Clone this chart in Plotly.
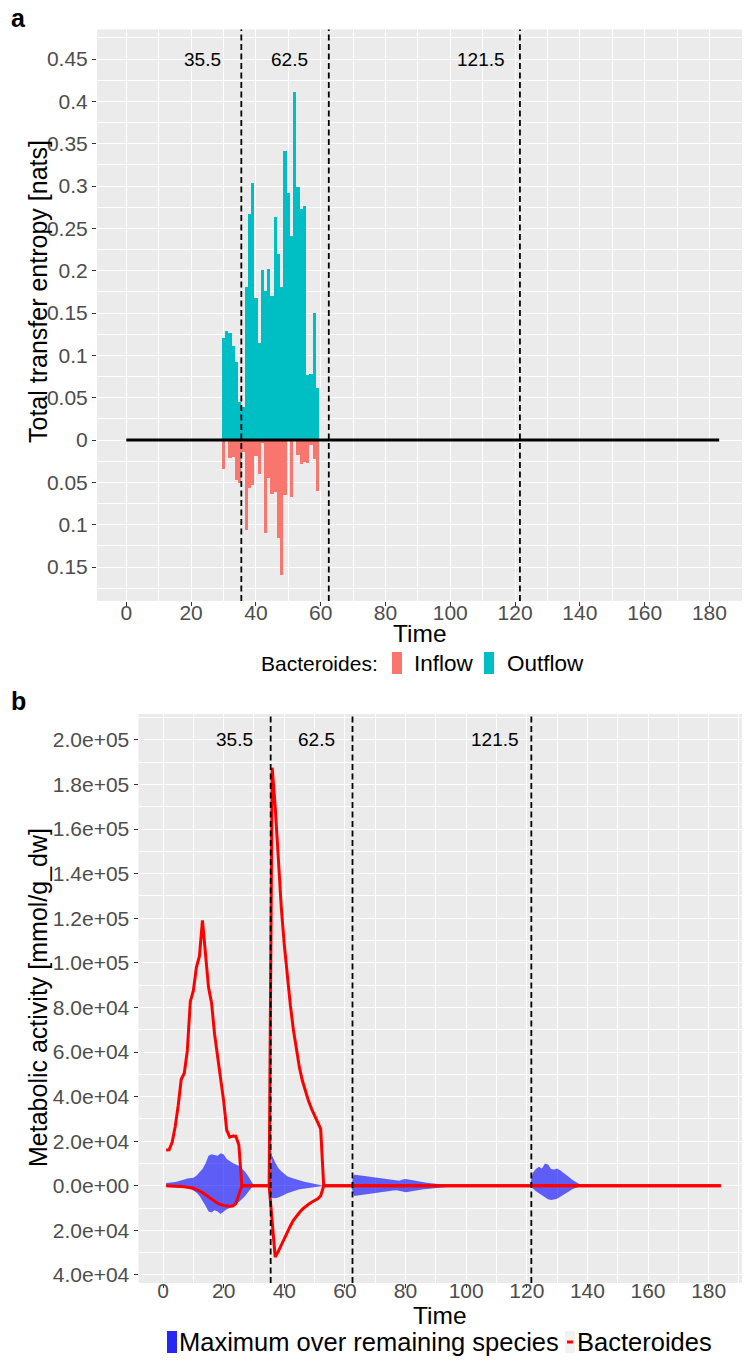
import plotly.graph_objects as go

W, H = 747, 1363


def px(x):
    return x / W


def py(y):
    return 1 - y / H


FONT = "Liberation Sans, Arial, sans-serif"

# ---------------- panel a data ----------------
te_time = [30, 31, 32, 33, 34, 35, 36, 37, 38, 39, 40, 41, 42, 43, 44,
           45, 46, 47, 48, 49, 50, 51, 52, 53, 54, 55, 56, 57, 58, 59]
outflow = [0.120, 0.128, 0.126, 0.111, 0.092, 0.044, 0.0385, 0.180, 0.266, 0.303,
           0.167, 0.114, 0.200, 0.176, 0.202, 0.170, 0.263, 0.219, 0.180, 0.341,
           0.291, 0.241, 0.411, 0.298, 0.272, 0.276, 0.076, 0.077, 0.149, 0.061]
inflow = [-0.035, -0.002, -0.0217, -0.021, -0.048, -0.051, -0.015, -0.107, -0.057, -0.054,
          -0.019, -0.041, -0.004, -0.110, -0.045, -0.064, -0.062, -0.116, -0.160, -0.065,
          -0.002, -0.068, -0.002, -0.018, -0.029, -0.026, -0.028, -0.0065, -0.023, -0.061]
baseline_time = [0, 183]
baseline_value = [0, 0]

cut_times = [35.5, 62.5, 121.5]
cut_labels = ["35.5", "62.5", "121.5"]

time_ticks = [0, 20, 40, 60, 80, 100, 120, 140, 160, 180]
time_minor = [10, 30, 50, 70, 90, 110, 130, 150, 170, 190]

a_ytick_vals = [-0.15, -0.1, -0.05, 0, 0.05, 0.1, 0.15, 0.2, 0.25, 0.3, 0.35, 0.4, 0.45]
a_ytick_text = ["0.15", "0.1", "0.05", "0", "0.05", "0.1", "0.15", "0.2", "0.25",
                "0.3", "0.35", "0.4", "0.45"]
a_yminor = [-0.175, -0.125, -0.075, -0.025, 0.025, 0.075, 0.125, 0.175, 0.225,
            0.275, 0.325, 0.375, 0.425, 0.475]

# ---------------- panel b data ----------------
bact_time = [1, 2, 3, 4, 5, 6, 7, 8, 9, 10, 11, 12, 13, 14, 15, 16, 17, 18, 19, 20,
             21, 22, 23, 24, 25, 26,
             35, 36, 37, 38, 39, 40, 41, 42, 43, 44, 45, 46, 47, 48, 49, 50, 51, 52, 53,
             184]
bact_pos = [16000, 16100, 19500, 26500, 36000, 47800, 50500, 60500, 82700, 87500,
            98000, 103000, 119000, 104000, 89000, 82000, 68000, 58000, 49000, 38000,
            25000, 21800, 22300, 22200, 18400, 0,
            0, 187500, 170000, 145000, 125000, 108000, 93000, 81000, 70000, 61000,
            53000, 47000, 42000, 38000, 34500, 31500, 28500, 25500, 0,
            0]
bact_neg = [0, 0, -100, -150, -200, -300, -400, -600, -800, -1100,
            -1600, -2200, -3000, -4000, -5000, -6000, -7000, -7800, -8400, -8800,
            -9100, -9200, -9100, -8000, -3500, 0,
            0, -16000, -32000, -29500, -26500, -23500, -20500, -18000, -15500, -13500,
            -12000, -10500, -9300, -8300, -7400, -6600, -5800, -4500, 0,
            0]

max_time = [1, 2, 3, 4, 5, 6, 7, 8, 9, 10, 11, 12, 13, 14, 15, 16, 17, 18, 19, 20,
            21, 22, 23, 24, 25, 26, 27, 28, 29, 30,
            35, 36, 37, 38, 39, 40, 41, 42, 43, 44, 45, 46, 47, 48, 49, 50, 51, 52, 53,
            62, 63, 64, 65, 66, 67, 68, 69, 70, 71, 72, 73, 74, 75, 76, 77, 78, 79, 80,
            81, 82, 83, 84, 85, 86, 87, 88, 89, 90, 91, 92, 93, 94, 95, 96, 97, 98,
            121, 122, 123, 124, 125, 126, 127, 128, 129, 130, 131, 132, 133, 134, 135,
            136, 137, 138, 139,
            148, 150, 152, 184]
max_upper = [1200, 1300, 1500, 1700, 2000, 2300, 2800, 3300, 3500, 3600,
             4500, 6000, 7500, 10000, 13500, 14200, 13800, 13500, 14600, 14000,
             12000, 11000, 10200, 9500, 9000, 7800, 6400, 4500, 2200, 0,
             0, 13500, 10500, 8000, 6500, 5200, 4300, 3700, 3200, 2700, 2300, 2000,
             1700, 1400, 1200, 900, 700, 450, 0,
             0, 5000, 4800, 4600, 4400, 4200, 4000, 3800, 3600, 3400, 3200, 3000, 2800,
             2600, 2400, 2300, 2300, 2800, 3000, 2800, 2500, 2200, 2000, 1800, 1600,
             1400, 1200, 1000, 900, 750, 600, 500, 400, 300, 200, 100, 0,
             0, 5800, 7500, 8500, 7800, 10000, 9500, 7500, 7300, 7800, 7000, 5800,
             4800, 3800, 2700, 1800, 1000, 500, 0,
             0, 300, 0, 0]
max_lower = [-500, -500, -500, -600, -700, -800, -900, -1000, -1300, -2000,
             -3000, -4500, -6500, -9000, -11500, -12000, -11000, -11500, -12700, -11500,
             -10500, -10000, -9000, -8000, -7300, -6000, -4700, -3000, -1200, 0,
             0, -5500, -5600, -5300, -4800, -4000, -3300, -2800, -2400, -2000, -1600,
             -1300, -1100, -900, -700, -550, -400, -250, 0,
             0, -4600, -4400, -4200, -4000, -3800, -3600, -3400, -3200, -3000, -2800,
             -2600, -2400, -2300, -2100, -2000, -2200, -2600, -2900, -2800, -2500,
             -2200, -2000, -1800, -1600, -1400, -1200, -1000, -900, -750, -600, -500,
             -400, -300, -200, -100, 0,
             0, -1300, -2500, -3400, -4300, -5000, -6000, -6400, -6200, -5800, -5000,
             -4200, -3300, -2400, -1500, -1000, -500, -150, 0,
             0, -300, 0, 0]

b_ytick_vals = [-40000, -20000, 0, 20000, 40000, 60000, 80000, 100000, 120000,
                140000, 160000, 180000, 200000]
b_ytick_text = ["4.0e+04", "2.0e+04", "0.0e+00", "2.0e+04", "4.0e+04", "6.0e+04",
                "8.0e+04", "1.0e+05", "1.2e+05", "1.4e+05", "1.6e+05", "1.8e+05", "2.0e+05"]
b_yminor = [-30000, -10000, 10000, 30000, 50000, 70000, 90000, 110000, 130000,
            150000, 170000, 190000, 210000]

# ---------------- colours ----------------
C_IN = "#F8766D"
C_OUT = "#00BFC4"
C_RIBBON = "rgba(0,0,255,0.6)"
C_RED = "#FF0000"

fig = go.Figure()

# panel a
fig.add_trace(go.Bar(x=te_time, y=outflow, width=1, marker=dict(color=C_OUT, line=dict(width=0)),
                     name="Outflow", showlegend=False, xaxis="x", yaxis="y"))
fig.add_trace(go.Bar(x=te_time, y=inflow, width=1, marker=dict(color=C_IN, line=dict(width=0)),
                     name="Inflow", showlegend=False, xaxis="x", yaxis="y"))
fig.add_trace(go.Scatter(x=baseline_time, y=baseline_value, mode="lines",
                         line=dict(color="black", width=3), showlegend=False,
                         xaxis="x", yaxis="y"))

# panel b
poly_x = max_time + max_time[::-1]
poly_y = max_upper + max_lower[::-1]
fig.add_trace(go.Scatter(x=poly_x, y=poly_y, mode="lines", fill="toself",
                         fillcolor=C_RIBBON, line=dict(width=0), showlegend=False,
                         name="Maximum over remaining species", xaxis="x2", yaxis="y2"))
fig.add_trace(go.Scatter(x=bact_time, y=bact_neg, mode="lines",
                         line=dict(color=C_RED, width=3), showlegend=False,
                         name="Bacteroides", xaxis="x2", yaxis="y2"))
fig.add_trace(go.Scatter(x=bact_time, y=bact_pos, mode="lines",
                         line=dict(color=C_RED, width=3), showlegend=False,
                         name="Bacteroides", xaxis="x2", yaxis="y2"))

tickfont = dict(family=FONT, size=21, color="#4D4D4D")
common_x = dict(tickmode="array", tickvals=time_ticks, ticks="outside", ticklen=4,
                tickwidth=1, tickcolor="#333333", showgrid=True, gridcolor="white",
                gridwidth=1.4, zeroline=False, showline=False, tickfont=tickfont,
                minor=dict(tickmode="array", tickvals=time_minor, showgrid=True,
                           gridcolor="white", gridwidth=0.7, ticks=""),
                automargin=False)
common_y = dict(ticks="outside", ticklen=4, tickwidth=1, tickcolor="#333333",
                showgrid=True, gridcolor="white", gridwidth=1.4, zeroline=False,
                showline=False, tickfont=tickfont, automargin=False, tickmode="array")

fig.update_layout(
    width=W, height=H, autosize=False,
    margin=dict(l=0, r=0, t=0, b=0),
    paper_bgcolor="white", plot_bgcolor="#EBEBEB",
    font=dict(family=FONT, color="black"),
    barmode="overlay", bargap=0,
    xaxis=dict(domain=[px(97), px(742)], range=[-9.05, 190.05], anchor="y",
               ticklabelstandoff=-11, **common_x),
    yaxis=dict(domain=[py(600.9), py(29.4)], range=[-0.19, 0.485], anchor="x",
               tickvals=a_ytick_vals, ticktext=a_ytick_text,
               minor=dict(tickmode="array", tickvals=a_yminor, showgrid=True,
                          gridcolor="white", gridwidth=0.7, ticks=""),
               **common_y),
    xaxis2=dict(domain=[px(138.5), px(742)], range=[-8.1, 191.0], anchor="y2",
                ticklabelstandoff=-15, **common_x),
    yaxis2=dict(domain=[py(1283), py(714)], range=[-43600, 211600], anchor="x2",
                tickvals=b_ytick_vals, ticktext=b_ytick_text,
                minor=dict(tickmode="array", tickvals=b_yminor, showgrid=True,
                           gridcolor="white", gridwidth=0.7, ticks=""),
                **common_y),
)

shapes = []
annotations = []
DASH = dict(color="black", width=1.8, dash="6px,3.5px")
for t, lab in zip(cut_times, cut_labels):
    shapes.append(dict(type="line", xref="x", yref="y domain", x0=t, x1=t, y0=0, y1=1,
                       line=DASH, layer="above"))
    shapes.append(dict(type="line", xref="x2", yref="y2 domain", x0=t, x1=t, y0=0, y1=1,
                       line=DASH, layer="above"))
    annotations.append(dict(x=t - 12, y=0.45, xref="x", yref="y", text=lab, showarrow=False,
                            font=dict(family=FONT, size=19, color="black")))
    annotations.append(dict(x=t - 12, y=200000, xref="x2", yref="y2", text=lab, showarrow=False,
                            font=dict(family=FONT, size=19, color="black")))


def text_ann(x, y, text, size, xanchor="center", angle=0, color="black"):
    annotations.append(dict(x=px(x), y=py(y), xref="paper", yref="paper", text=text,
                            showarrow=False, xanchor=xanchor, yanchor="middle",
                            textangle=angle, font=dict(family=FONT, size=size, color=color)))


def rect(x0, y0, x1, y1, color):
    shapes.append(dict(type="rect", xref="paper", yref="paper", x0=px(x0), x1=px(x1),
                       y0=py(y1), y1=py(y0), fillcolor=color, line=dict(width=0)))


# panel tags and axis titles
text_ann(9, 18, "<b>a</b>", 25, xanchor="left")
text_ann(9, 701, "<b>b</b>", 25, xanchor="left")
text_ann(38, 292, "Total transfer entropy [nats]", 25, angle=-90)
text_ann(419.5, 634, "Time", 24.5)
text_ann(38, 998, "Metabolic activity [mmol/g_dw]", 25, angle=-90)
text_ann(440, 1315, "Time", 24.5)

# legend a
text_ann(380, 663, "Bacteroides:", 21, xanchor="right")
rect(392, 652, 402, 674, C_IN)
text_ann(412, 663, "Inflow", 22.5, xanchor="left")
rect(484, 652, 494, 674, C_OUT)
text_ann(505, 663, "Outflow", 22.5, xanchor="left")

# legend b
rect(167, 1331, 177, 1353, "#2626F5")
text_ann(177, 1342, "Maximum over remaining species", 25.5, xanchor="left")
rect(565, 1331, 575, 1353, "#F2F2F2")
shapes.append(dict(type="line", xref="paper", yref="paper", x0=px(567), x1=px(573),
                   y0=py(1342), y1=py(1342), line=dict(color=C_RED, width=3)))
text_ann(575, 1342, "Bacteroides", 25.5, xanchor="left")

fig.update_layout(shapes=shapes, annotations=annotations)

fig.write_html("out.html")
